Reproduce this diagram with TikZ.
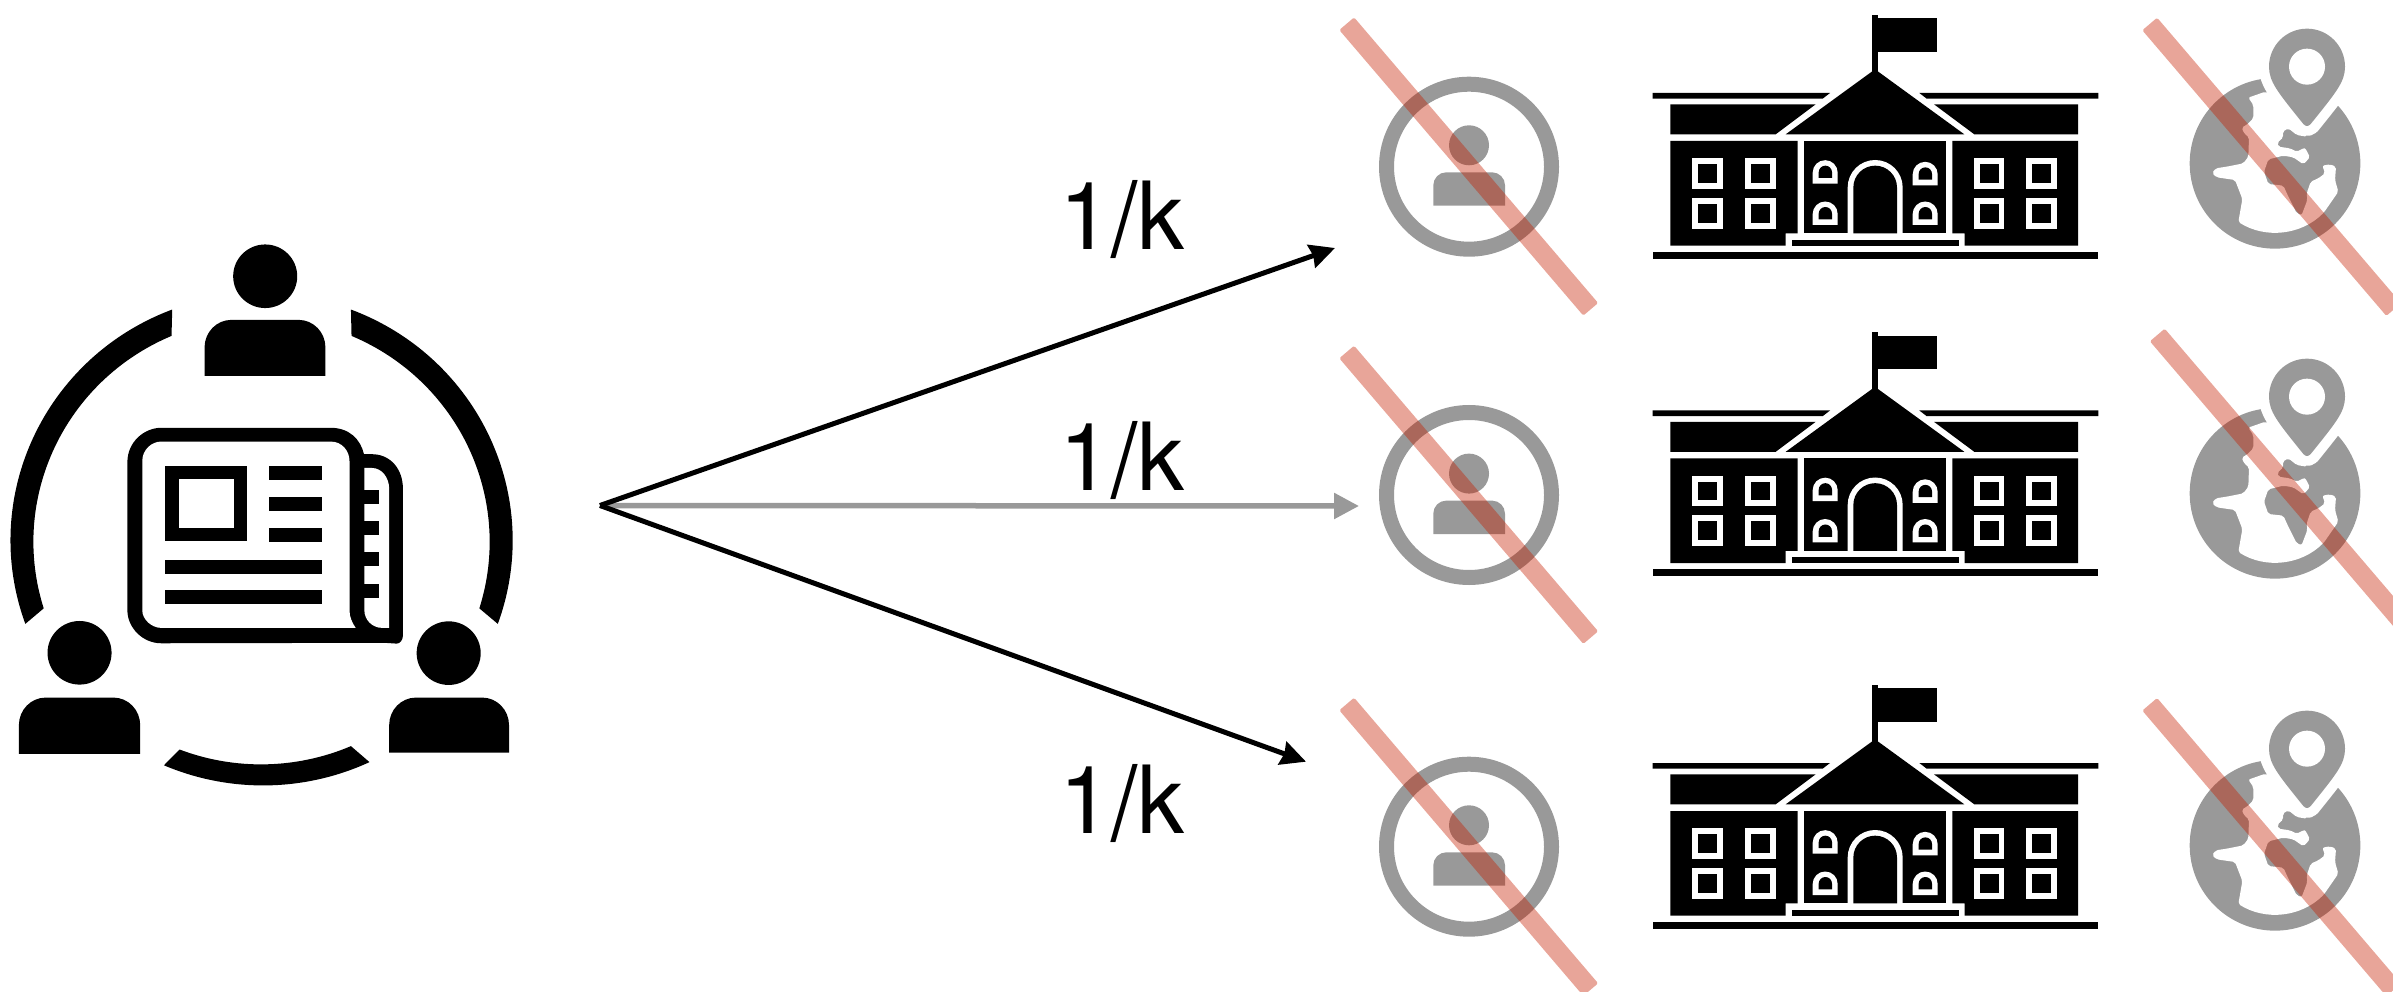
\documentclass[tikz,border=0pt]{standalone}
\usepackage{fontspec}
\setmainfont{TeX Gyre Heros}
\usetikzlibrary{arrows.meta}
\definecolor{icongray}{HTML}{999999}
\definecolor{crossred}{HTML}{C51E00}
\newcommand{\ratiotext}{1\raisebox{-7.7pt}{\scalebox{1}[1.11]{/}}k}
\tikzset{
  blackarrow/.style={line width=5pt,black,-{Stealth[length=25pt,width=24pt,inset=2pt]}},
  grayarrow/.style={line width=5.5pt,icongray,-{Triangle[length=25pt,width=25pt]}},
  ratio/.style={font=\fontsize{94}{94}\selectfont,inner sep=0pt,anchor=base west},
  crossbar/.pic={\fill[crossred,fill opacity=.4,rounded corners=1.5pt] (-7.4,6.3) -- (7.4,-6.3) -- (251.4,279.3) -- (236.6,291.9) -- cycle;},
  usercirc/.pic={
    \draw[icongray,line width=15pt] (1469,166.7) circle[radius=82.5];
    \fill[icongray] (1469,145.3) circle[radius=20];
    \fill[icongray] (1433.3,205.7) -- (1433.3,185.3) arc[start angle=180,end angle=270,radius=13] -- (1492,172.3) arc[start angle=270,end angle=360,radius=13] -- (1505,205.7) -- cycle;
  },
  bldg/.pic={
    \begin{scope}[scale=1/3]
      % flag
      \fill (697,44) rectangle (713,215);
      \fill (713,55) rectangle (891,155);
      % roof
      \fill (705,208) -- (973,403) -- (437,403) -- cycle;
      % eaves
      \fill (38,279) -- (570,279) -- (548,296) -- (38,296) -- cycle;
      \fill (838,279) -- (1375,279) -- (1375,296) -- (860,296) -- cycle;
      \fill (91,313) -- (527,313) -- (407,403) -- (91,403) -- cycle;
      \fill (882,313) -- (1314,313) -- (1314,403) -- (1003,403) -- cycle;
      % wings
      \fill (91,423) -- (473,423) -- (473,700) -- (437,700) -- (437,737) -- (91,737) -- cycle;
      \fill (937,423) -- (1314,423) -- (1314,737) -- (974,737) -- (974,700) -- (937,700) -- cycle;
      \fill (492,423) rectangle (918,700);
      \fill (455,719) rectangle (956,737);
      \fill (38,756) rectangle (1373,776);
      % square windows
      \foreach \wx in {157,315,1001,1159}{
        \foreach \wy in {475,594}{
          \fill[white] (\wx,\wy) rectangle +(92,92);
          \fill[black] (\wx+18,\wy+18) rectangle +(57,56);
        }
      }
      % door
      \fill[white] (623,700) -- (623,562.5) arc[start angle=180,end angle=360,radius=82.5] -- (788,700) -- cycle;
      \fill[black] (640,700) -- (640,562.5) arc[start angle=180,end angle=360,radius=65.5] -- (771,700) -- cycle;
      % arched windows
      \foreach \ax/\ay in {518/551,818/556,518/675,818/675}{
        \fill[white] (\ax,\ay) -- (\ax,\ay-33) arc[start angle=180,end angle=360,radius=37.5] -- (\ax+75,\ay) -- cycle;
        \fill[black] (\ax+18,\ay-17) -- (\ax+18,\ay-34) arc[start angle=180,end angle=360,radius=20] -- (\ax+58,\ay-17) -- cycle;
      }
    \end{scope}
  },
  globepin/.pic={
    \begin{scope}[scale=1/3]
      \fill[icongray] (465,490) circle[radius=256];
      \fill[white,rounded corners=2pt] (436,275) -- (385,293) -- (400,315) -- (400,355) -- (380,375) -- (365,382) -- (372,400) -- (387,412) -- (385,470) -- (370,490) -- (320,500) -- (287,505) -- (276,520) -- (290,532) -- (345,540) -- (367,597) -- (355,666) arc[start angle=122,end angle=45,radius=208] -- (655,575) -- (645,540) -- (648,500) -- (630,493) -- (607,497) -- (615,520) -- (595,535) -- (572,545) -- (560,580) -- (562,600) -- (545,645) -- (530,640) -- (505,590) -- (490,557) -- (445,552) -- (432,515) -- (445,478) -- (490,467) -- (520,472) -- (550,493) -- (570,472) -- (555,443) -- (530,455) -- (510,445) -- (475,440) -- (472,428) -- (490,412) -- (488,395) -- (505,385) -- (530,405) -- (560,410) -- (500,300) -- cycle;
      % halo and pin
      \path[fill=white,draw=white,line width=20pt,line join=round] (447,200) arc[start angle=180,end angle=360,radius=114] .. controls (675,245) and (650,275) .. (572,372) .. controls (565,380) and (557,380) .. (550,372) .. controls (472,275) and (447,245) .. (447,200) -- cycle;
      \fill[icongray] (447,200) arc[start angle=180,end angle=360,radius=114] .. controls (675,245) and (650,275) .. (572,372) .. controls (565,380) and (557,380) .. (550,372) .. controls (472,275) and (447,245) .. (447,200) -- cycle;
      \fill[white] (561,200) circle[radius=54];
    \end{scope}
  }
}
\begin{document}
\begin{tikzpicture}[x=1pt,y=-1pt]
\useasboundingbox (0,0) rectangle (2393,992);
\clip (0,0) rectangle (2393,992);

\begin{scope}[shift={(0,-32.56)},xscale=1.0331,yscale=1.148]
% --- left icon: people
\fill (256.7,269) ellipse[x radius=31,y radius=27.7];
\fill (198,355.7) -- (198,331) arc[start angle=180,end angle=270,x radius=26,y radius=24] -- (289,307) arc[start angle=270,end angle=360,x radius=26,y radius=24] -- (315,355.7) -- cycle;
\fill (77,597) ellipse[x radius=31,y radius=27.7];
\fill (18.3,685) -- (18.3,660) arc[start angle=180,end angle=270,x radius=26,y radius=24] -- (109.7,636) arc[start angle=270,end angle=360,x radius=26,y radius=24] -- (135.7,685) -- cycle;
\fill (434.3,597.3) ellipse[x radius=31,y radius=27.7];
\fill (376.7,684) -- (376.7,660) arc[start angle=180,end angle=270,x radius=26,y radius=24] -- (466.7,636) arc[start angle=270,end angle=360,x radius=26,y radius=24] -- (492.7,684) -- cycle;

% --- left icon: arcs
\fill (166.7,298) arc[start angle=249.2,end angle=160.2,x radius=242.7,y radius=215] -- (42.3,558.3) arc[start angle=162.7,end angle=246.9,x radius=220,y radius=195] -- cycle;
\fill (339.7,298) arc[start angle=-69.2,end angle=19.8,x radius=242.7,y radius=215] -- (464,558.3) arc[start angle=17.3,end angle=-66.9,x radius=220,y radius=195] -- cycle;
\fill (158.7,695) arc[start angle=113.3,end angle=64.9,x radius=242.7,y radius=215] -- (339.7,678.3) arc[start angle=66.7,end angle=111,x radius=220,y radius=195] -- cycle;

% --- left icon: newspaper
\fill (123.3,431) .. controls (123.3,413) and (140,401) .. (156,401) -- (320,401) .. controls (338,401) and (349,411) .. (352.3,424) -- (360,424) .. controls (378,424) and (390,437) .. (390,454) -- (390,582) .. controls (390,586) and (387,589) .. (384,589) -- (372,588.3) -- (156,588.7) .. controls (138,588.7) and (123.3,575) .. (123.3,560) -- cycle;
\fill[white] (137.7,430) .. controls (137.7,420) and (147,413) .. (156,413) -- (320,413) .. controls (331,413) and (338.3,421) .. (338.3,430) -- (338.3,560) .. controls (338.3,566) and (341,571) .. (344.3,575.3) -- (156,575.3) .. controls (147,575.3) and (137.7,568) .. (137.7,560) -- cycle;
\fill[white] (352.7,436) -- (360,436) .. controls (370,436) and (376.7,445) .. (376.7,454) -- (376.7,575.3) -- (370,575.3) .. controls (360,575.3) and (352.7,568) .. (352.7,560) -- cycle;
\foreach \ty/\tb in {455/467.3,482.3/494,509/521,537.3/549.3}{\fill (352,\ty) rectangle (366.7,\tb);}
\fill (160,434.3) rectangle (239.3,500);
\fill[white] (173.7,446) rectangle (226.7,488);
\foreach \ly/\lb in {434.3/446.7,461.3/473.7,488/500.3}{\fill (260.7,\ly) rectangle (312,\lb);}
\foreach \ly/\lb in {516.3/528.3,542/554.7}{\fill (160,\ly) rectangle (312,\lb);}
\end{scope}

% --- arrows
\coordinate (src) at (600,505.5);
\coordinate (t1) at (1335,248);
\coordinate (t2) at (1359,506);
\coordinate (t3) at (1306,761.7);
\draw[grayarrow] (src) -- (t2);
\draw[blackarrow] (src) -- (t1);
\draw[blackarrow] (src) -- (t3);
\node[ratio] (r1) at (1059,249.3) {\ratiotext};
\node[ratio] (r2) at (1059,490) {\ratiotext};
\node[ratio] (r3) at (1059,833) {\ratiotext};

% --- right columns
\foreach \oy in {0,328.3,680}{\pic at (0,\oy) {usercirc};}
\foreach \oy in {0,317.5,670}{\pic at (1640,\oy) {bldg};}
\foreach \oy in {0,330,682}{\pic at (2120,\oy) {globepin};}
\pic at (1346.7,23.7) {crossbar};
\pic at (1346.7,352) {crossbar};
\pic at (1346.7,704) {crossbar};
\pic at (2149.7,24) {crossbar};
\pic at (2157.3,335) {crossbar};
\pic at (2149.7,704.3) {crossbar};
\end{tikzpicture}
\end{document}
